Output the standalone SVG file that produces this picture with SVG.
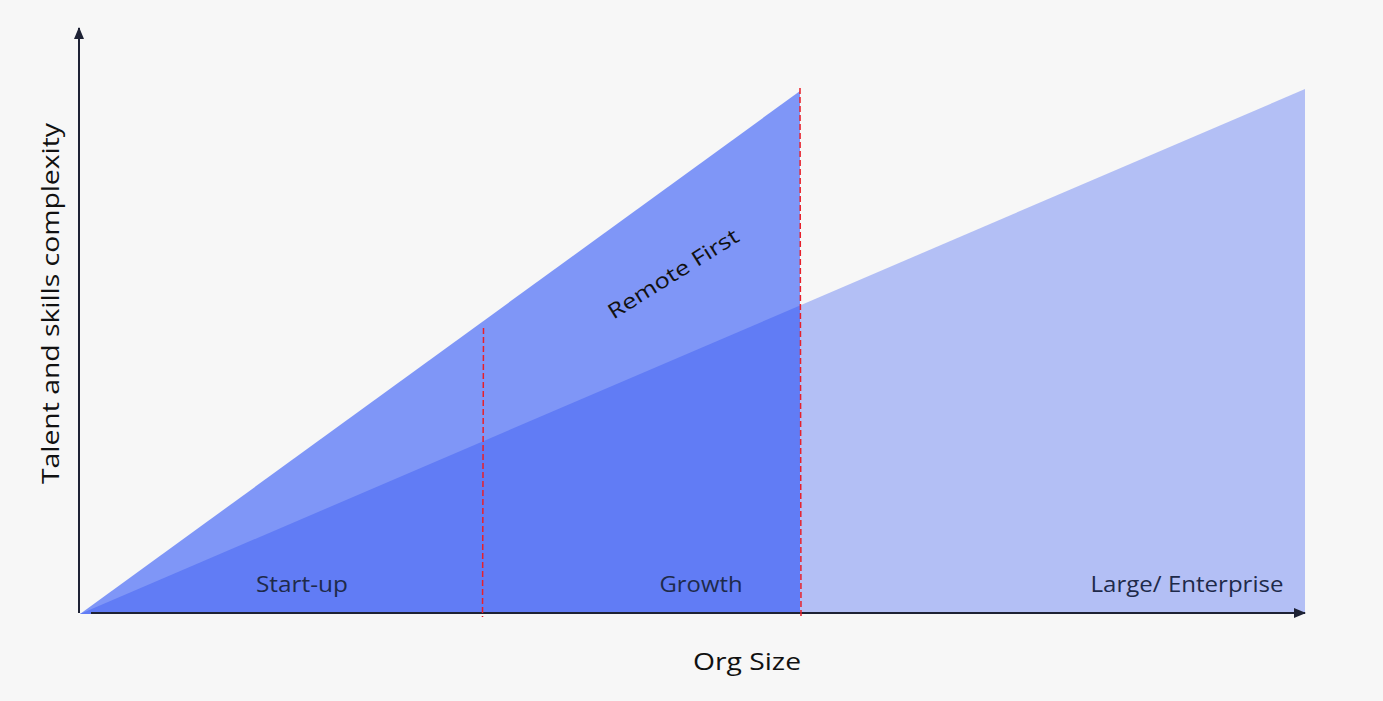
<svg xmlns="http://www.w3.org/2000/svg" width="1383" height="701" viewBox="0 0 1383 701">
<style>
.lbl{font-family:"Open Sans","Liberation Sans",sans-serif;fill:#1e2a4a;font-size:21px;text-anchor:middle}
.ax{font-family:"Open Sans","Liberation Sans",sans-serif;fill:#111;font-size:24px;text-anchor:middle}
.dash{stroke:#e8202a;stroke-width:1.5;stroke-dasharray:6,3;fill:none}
.axis{stroke:#1e2235;stroke-width:2;fill:none}
</style>
<defs>
<marker id="arr" markerWidth="12" markerHeight="10" refX="11" refY="5" orient="auto" markerUnits="userSpaceOnUse">
<path d="M0,0 L12,5 L0,10 Z" fill="#1e2235"/>
</marker>
</defs>
<rect width="1383" height="701" fill="#f7f7f7"/>
<g id="enterprise-area"><polygon points="80,614 1305,89 1305,614" fill="#b3bff5"/></g>
<g id="remote-first-area"><polygon points="80,614 800,91 800,614" fill="#7f96f7"/></g>
<g id="overlap-area"><polygon points="80,614 800,305.5 800,614" fill="#617cf5"/></g>
<g id="connectors">
<line class="axis" x1="79" y1="613" x2="79" y2="28" marker-end="url(#arr)"/>
<line class="axis" x1="91" y1="613" x2="1305" y2="613" marker-end="url(#arr)"/>
<line class="dash" x1="483.5" y1="328" x2="482.5" y2="617"/>
<line class="dash" x1="800" y1="88" x2="801" y2="617"/>
</g>
<g id="labels">
<text class="lbl" x="302" y="592" textLength="92" lengthAdjust="spacingAndGlyphs">Start-up</text>
<text class="lbl" x="701" y="592" textLength="83" lengthAdjust="spacingAndGlyphs">Growth</text>
<text class="lbl" x="1187" y="592" textLength="193" lengthAdjust="spacingAndGlyphs">Large/ Enterprise</text>
<text class="lbl" x="0" y="0" style="fill:#111" transform="translate(677,280) rotate(-32)" textLength="150" lengthAdjust="spacingAndGlyphs">Remote First</text>
<text class="ax" x="747" y="670" textLength="108" lengthAdjust="spacingAndGlyphs">Org Size</text>
<text class="ax" x="0" y="0" transform="translate(59,303.5) rotate(-90)" textLength="361" lengthAdjust="spacingAndGlyphs">Talent and skills complexity</text>
</g>
</svg>
